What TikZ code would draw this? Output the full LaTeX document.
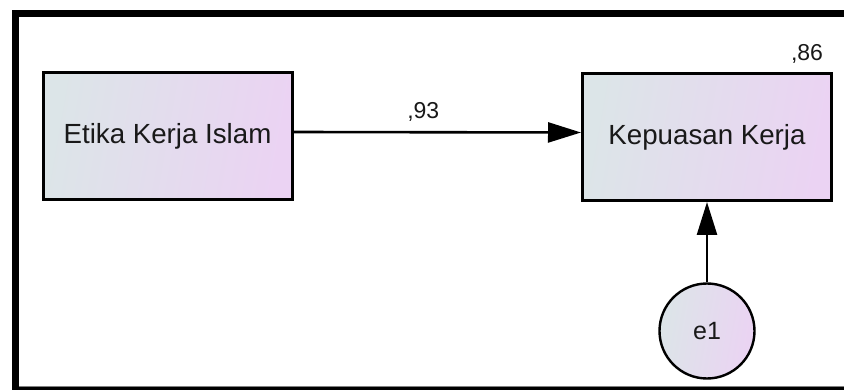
\documentclass[tikz,border=0pt]{standalone}
\usepackage{fontspec}
\setmainfont{Liberation Sans}
\usetikzlibrary{arrows.meta}
\definecolor{gradL}{RGB}{220,229,232}
\definecolor{gradR}{RGB}{235,211,243}
\definecolor{txt}{RGB}{25,25,25}
\begin{document}
\begin{tikzpicture}[x=1pt,y=-1pt,
  obs/.style={draw=black, line width=3pt, minimum width=249pt, minimum height=127pt,
    inner sep=0pt, shading=axis, left color=gradL, right color=gradR, shading angle=80,
    font=\fontsize{27.7}{32}\selectfont, text=txt},
  err/.style={draw=black, line width=2.4pt, circle, minimum size=95pt, inner sep=0pt,
    shading=axis, left color=gradL, right color=gradR, shading angle=80,
    font=\fontsize{25}{28}\selectfont, text=txt},
  val/.style={font=\fontsize{23}{26}\selectfont, text=txt, inner sep=0pt},
  path/.style={draw=black, line width=2.6pt, -{Triangle[length=33pt,width=20pt]}}]
\useasboundingbox (0,0) rectangle (844,390);
\fill[white] (0,0) rectangle (844,390);
% frame
\fill[black] (12,10) rectangle (844,17);
\fill[black] (12,10) rectangle (19,390);
\fill[black] (12,387) rectangle (844,390);
\draw[gray, line width=1pt] (19,386) -- (844,386);
% nodes
\node[obs] (eki) at (167.5,136.5) {Etika Kerja Islam};
\node[obs] (kk) at (707,137) {Kepuasan Kerja};
\node[err] (e1) at (707,331) {e1};
\node[val] (r2) at (807,54) {,86};
% connectors
\draw[path] ([yshift=4.5pt]eki.east) -- node[val, above=10pt, xshift=-14pt] (b1) {,93} ([yshift=4.5pt]kk.west);
\draw[path] (e1.north) -- (kk.south);
\end{tikzpicture}
\end{document}
